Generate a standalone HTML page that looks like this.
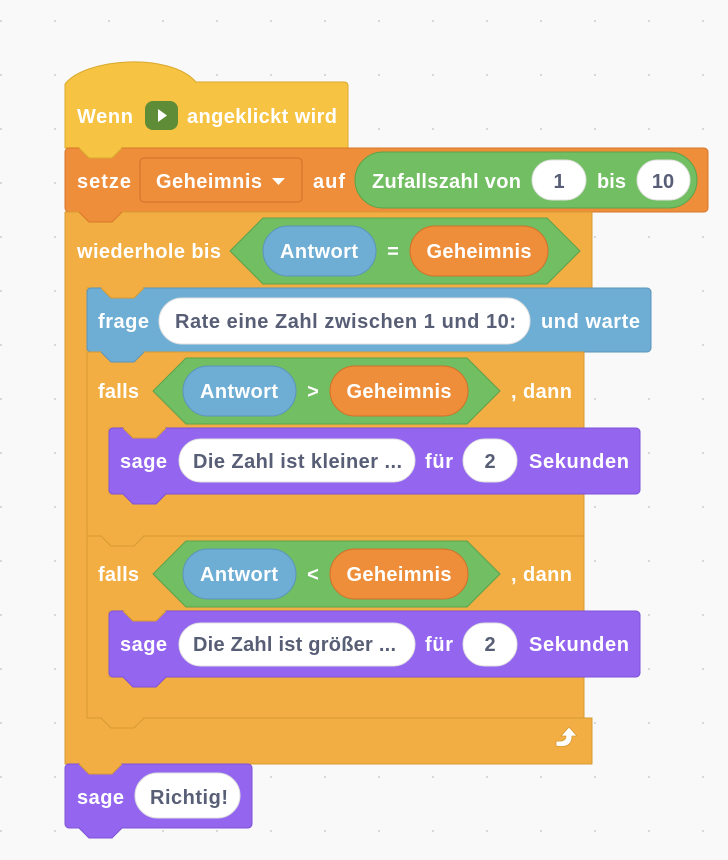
<!DOCTYPE html>
<html><head><meta charset="utf-8"><style>
html,body{margin:0;padding:0;background:#f9f9f9}
svg{display:block}
text{font-family:"Liberation Sans",sans-serif;font-size:20px;font-weight:bold}
.w{fill:#fff}.d{fill:#575e75}
</style></head><body>
<svg width="728" height="860" viewBox="0 0 728 860" xmlns="http://www.w3.org/2000/svg">
<defs><pattern id="dots" x="0" y="20" width="54" height="54" patternUnits="userSpaceOnUse"><circle cx="1" cy="1" r="1.1" fill="#d6d6d6"/></pattern></defs>
<rect width="728" height="860" fill="#f9f9f9"/>
<rect width="728" height="860" fill="url(#dots)"/>
<g stroke-linejoin="round">
<!-- hat -->
<path d="M65,84 C85,58 170,52 196,82 L344,82 Q348,82 348,86 L348,148 L65,148 Z" fill="#f6c343" stroke="#d9a92d"/>
<rect x="145" y="101" width="33" height="29" rx="8" fill="#5f8c37"/>
<path d="M158,109 L158,122 L167,115.5 Z" fill="#fff"/>
<text class="w" x="77" y="123" textLength="56">Wenn</text>
<text class="w" x="187" y="123" textLength="150">angeklickt wird</text>
<!-- setze -->
<rect x="65" y="148" width="643" height="64" rx="4" fill="#ee8e3a" stroke="#d8772a"/>
<text class="w" x="77" y="188" textLength="54">setze</text>
<rect x="140" y="158" width="162" height="44" rx="4" fill="#ee8e3a" stroke="#d0702a"/>
<text class="w" x="156" y="188" textLength="106">Geheimnis</text>
<path d="M272,178 L285,178 L278.5,185 Z" fill="#fff"/>
<text class="w" x="313" y="188" textLength="32">auf</text>
<rect x="355" y="152" width="342" height="56" rx="28" fill="#72be62" stroke="#5ca14c"/>
<text class="w" x="372" y="188" textLength="149">Zufallszahl von</text>
<rect x="532" y="160" width="54" height="40" rx="20" fill="#fff" stroke="#e0e0e0"/>
<text class="d" x="559" y="188" text-anchor="middle">1</text>
<text class="w" x="597" y="188" textLength="29">bis</text>
<rect x="637" y="160" width="53" height="40" rx="20" fill="#fff" stroke="#e0e0e0"/>
<text class="d" x="663" y="188" text-anchor="middle">10</text>
<!-- repeat C -->
<path d="M65,212 L592,212 L592,288 L87,288 L87,718 L592,718 L592,764 L65,764 Z" fill="#f2ae42" stroke="#d69a32"/>
<text class="w" x="77" y="258" textLength="144">wiederhole bis</text>
<path d="M230,251 L263,218 L547,218 L580,251 L547,284 L263,284 Z" fill="#72be62" stroke="#5ca14c"/>
<rect x="263" y="226" width="113" height="50" rx="25" fill="#6eadd4" stroke="#5b94bb"/>
<text class="w" x="319" y="258" text-anchor="middle" textLength="78">Antwort</text>
<text class="w" x="393" y="258" text-anchor="middle">=</text>
<rect x="410" y="226" width="138" height="50" rx="25" fill="#ee8e3a" stroke="#d0702a"/>
<text class="w" x="479" y="258" text-anchor="middle" textLength="105">Geheimnis</text>
<!-- frage -->
<rect x="87" y="288" width="564" height="64" rx="4" fill="#6eadd4" stroke="#5b94bb"/>
<text class="w" x="98" y="328" textLength="51">frage</text>
<rect x="159" y="298" width="371" height="46" rx="23" fill="#fff" stroke="#e0e0e0"/>
<text class="d" x="175" y="328" textLength="341">Rate eine Zahl zwischen 1 und 10:</text>
<text class="w" x="541" y="328" textLength="99">und warte</text>
<!-- falls 1 -->
<path d="M87,352 L584,352 L584,428 L109,428 L109,494 L584,494 L584,536 L87,536 Z" fill="#f2ae42" stroke="#d69a32"/>
<text class="w" x="98" y="398" textLength="41">falls</text>
<path d="M153,391 L186,358 L467,358 L500,391 L467,424 L186,424 Z" fill="#72be62" stroke="#5ca14c"/>
<rect x="183" y="366" width="113" height="50" rx="25" fill="#6eadd4" stroke="#5b94bb"/>
<text class="w" x="239" y="398" text-anchor="middle" textLength="78">Antwort</text>
<text class="w" x="313" y="398" text-anchor="middle">&gt;</text>
<rect x="330" y="366" width="138" height="50" rx="25" fill="#ee8e3a" stroke="#d0702a"/>
<text class="w" x="399" y="398" text-anchor="middle" textLength="105">Geheimnis</text>
<text class="w" x="511" y="398" textLength="61">, dann</text>
<rect x="109" y="428" width="531" height="66" rx="4" fill="#9466f0" stroke="#7d52d6"/>
<text class="w" x="120" y="468" textLength="47">sage</text>
<rect x="179" y="439" width="236" height="43" rx="21.5" fill="#fff" stroke="#e0e0e0"/>
<text class="d" x="193" y="468" textLength="209">Die Zahl ist kleiner ...</text>
<text class="w" x="425" y="468" textLength="28">für</text>
<rect x="463" y="439" width="54" height="43" rx="21.5" fill="#fff" stroke="#e0e0e0"/>
<text class="d" x="490" y="468" text-anchor="middle">2</text>
<text class="w" x="529" y="468" textLength="100">Sekunden</text>
<!-- falls 2 -->
<path d="M87,536 L584,536 L584,611 L109,611 L109,677 L584,677 L584,718 L87,718 Z" fill="#f2ae42" stroke="#d69a32"/>
<text class="w" x="98" y="581" textLength="41">falls</text>
<path d="M153,574 L186,541 L467,541 L500,574 L467,607 L186,607 Z" fill="#72be62" stroke="#5ca14c"/>
<rect x="183" y="549" width="113" height="50" rx="25" fill="#6eadd4" stroke="#5b94bb"/>
<text class="w" x="239" y="581" text-anchor="middle" textLength="78">Antwort</text>
<text class="w" x="313" y="581" text-anchor="middle">&lt;</text>
<rect x="330" y="549" width="138" height="50" rx="25" fill="#ee8e3a" stroke="#d0702a"/>
<text class="w" x="399" y="581" text-anchor="middle" textLength="105">Geheimnis</text>
<text class="w" x="511" y="581" textLength="61">, dann</text>
<rect x="109" y="611" width="531" height="66" rx="4" fill="#9466f0" stroke="#7d52d6"/>
<text class="w" x="120" y="651" textLength="47">sage</text>
<rect x="179" y="623" width="236" height="43" rx="21.5" fill="#fff" stroke="#e0e0e0"/>
<text class="d" x="193" y="651" textLength="203">Die Zahl ist größer ...</text>
<text class="w" x="425" y="651" textLength="28">für</text>
<rect x="463" y="623" width="54" height="43" rx="21.5" fill="#fff" stroke="#e0e0e0"/>
<text class="d" x="490" y="651" text-anchor="middle">2</text>
<text class="w" x="529" y="651" textLength="100">Sekunden</text>
<!-- repeat arrow -->
<path d="M556,746 Q572,749 572,736 L577,736 L569,727 L561,736 L566,736 Q566,742 556,741 Z" fill="#fff" stroke="#d69a32" stroke-width="0.8"/>
<!-- final sage -->
<rect x="65" y="764" width="187" height="64" rx="4" fill="#9466f0" stroke="#7d52d6"/>
<text class="w" x="77" y="804" textLength="47">sage</text>
<rect x="135" y="773" width="105" height="45" rx="22.5" fill="#fff" stroke="#e0e0e0"/>
<text class="d" x="150" y="804" textLength="78">Richtig!</text>
<!-- notches -->
<g>
<path d="M79,148 L89,158 L112,158 L122,148" fill="#f6c343" stroke="#d9a92d"/><rect x="80" y="146" width="41" height="2.5" fill="#f6c343"/>
<path d="M79,212 L89,222 L112,222 L122,212" fill="#ee8e3a" stroke="#d8772a"/><rect x="80" y="210" width="41" height="2.5" fill="#ee8e3a"/>
<path d="M101,288 L111,298 L134,298 L144,288" fill="#f2ae42" stroke="#d69a32"/><rect x="102" y="286" width="41" height="2.5" fill="#f2ae42"/>
<path d="M101,352 L111,362 L134,362 L144,352" fill="#6eadd4" stroke="#5b94bb"/><rect x="102" y="350" width="41" height="2.5" fill="#6eadd4"/>
<path d="M123,428 L133,438 L156,438 L166,428" fill="#f2ae42" stroke="#d69a32"/><rect x="124" y="426" width="41" height="2.5" fill="#f2ae42"/>
<path d="M123,494 L133,504 L156,504 L166,494" fill="#9466f0" stroke="#7d52d6"/><rect x="124" y="492" width="41" height="2.5" fill="#9466f0"/>
<path d="M101,536 L111,546 L134,546 L144,536" fill="#f2ae42" stroke="#d69a32"/><rect x="102" y="534" width="41" height="2.5" fill="#f2ae42"/>
<path d="M123,611 L133,621 L156,621 L166,611" fill="#f2ae42" stroke="#d69a32"/><rect x="124" y="609" width="41" height="2.5" fill="#f2ae42"/>
<path d="M123,677 L133,687 L156,687 L166,677" fill="#9466f0" stroke="#7d52d6"/><rect x="124" y="675" width="41" height="2.5" fill="#9466f0"/>
<path d="M101,718 L111,728 L134,728 L144,718" fill="#f2ae42" stroke="#d69a32"/><rect x="102" y="716" width="41" height="2.5" fill="#f2ae42"/>
<path d="M79,764 L89,774 L112,774 L122,764" fill="#f2ae42" stroke="#d69a32"/><rect x="80" y="762" width="41" height="2.5" fill="#f2ae42"/>
<path d="M79,828 L89,838 L112,838 L122,828" fill="#9466f0" stroke="#7d52d6"/><rect x="80" y="826" width="41" height="2.5" fill="#9466f0"/>
</g>
</g>
</svg>
</body></html>
